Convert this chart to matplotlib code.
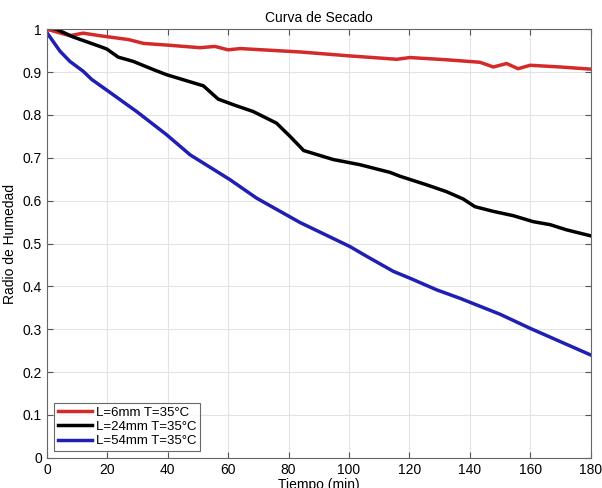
import matplotlib.pyplot as plt

plt.rcParams['font.family'] = ['Liberation Sans', 'DejaVu Sans']

t_red = [0, 7.6, 12, 17.5, 27, 32, 40, 50.7, 55.6, 60, 64, 84, 100, 115.8, 120.2, 132, 143.4, 147.8, 152.2, 156, 160, 170, 180]
y_red = [1.0, 0.985, 0.991, 0.985, 0.976, 0.967, 0.963, 0.957, 0.960, 0.952, 0.955, 0.947, 0.938, 0.930, 0.934, 0.929, 0.923, 0.912, 0.920, 0.908, 0.916, 0.912, 0.907]

t_black = [0, 3.2, 8.7, 17.5, 19.8, 23.6, 28.6, 35.2, 39.6, 51.8, 56.7, 61.7, 68.3, 76, 80.5, 85, 94.8, 103.6, 113.6, 116.9, 125.7, 132.3, 137.8, 141.7, 147.8, 154.4, 161, 166.6, 172, 180]
y_black = [1.005, 1.0, 0.982, 0.960, 0.954, 0.935, 0.925, 0.906, 0.894, 0.868, 0.837, 0.824, 0.808, 0.781, 0.750, 0.717, 0.696, 0.684, 0.666, 0.657, 0.637, 0.621, 0.604, 0.586, 0.575, 0.565, 0.551, 0.544, 0.532, 0.518]

t_blue = [0, 4.3, 7.6, 12, 14.8, 19.8, 29.7, 39.6, 47.4, 60.6, 69.4, 83.8, 100.3, 105.9, 114.7, 120.2, 129, 136.8, 150, 160, 170, 180]
y_blue = [0.992, 0.949, 0.925, 0.902, 0.883, 0.858, 0.808, 0.754, 0.707, 0.649, 0.606, 0.549, 0.493, 0.470, 0.435, 0.419, 0.392, 0.372, 0.335, 0.302, 0.271, 0.240]

fig = plt.figure(figsize=(6.02, 4.88), dpi=100)
ax = fig.add_axes([0.078, 0.062, 0.903, 0.878])

ax.plot(t_red, y_red, color='#d42a2a', linewidth=2.5, label='L=6mm T=35°C')
ax.plot(t_black, y_black, color='black', linewidth=2.5, label='L=24mm T=35°C')
ax.plot(t_blue, y_blue, color='#1f1fb4', linewidth=2.5, label='L=54mm T=35°C')

ax.set_xlim(0, 180)
ax.set_ylim(0, 1)
ax.set_xticks(range(0, 181, 20))
ax.set_yticks([0, 0.1, 0.2, 0.3, 0.4, 0.5, 0.6, 0.7, 0.8, 0.9, 1])
ax.set_yticklabels(['0', '0.1', '0.2', '0.3', '0.4', '0.5', '0.6', '0.7', '0.8', '0.9', '1'])
ax.tick_params(direction='in', top=True, right=True, labelsize=10, length=4, color='#555555')
ax.grid(True, color='#e3e3e3', linewidth=0.8)
for s in ax.spines.values():
    s.set_color('#666666')

ax.set_title('Curva de Secado', fontsize=10, pad=5)
ax.set_xlabel('Tiempo (min)', fontsize=10, labelpad=1)
ax.set_ylabel('Radio de Humedad', fontsize=10, labelpad=4)

leg = ax.legend(loc='lower left', fontsize=9.5, frameon=True, fancybox=False,
                edgecolor='#444444', borderpad=0.3, labelspacing=0.15, handlelength=2.6,
                handletextpad=0.3, borderaxespad=0.5)
leg.get_frame().set_linewidth(0.8)

fig.savefig('out.png', dpi=100)
